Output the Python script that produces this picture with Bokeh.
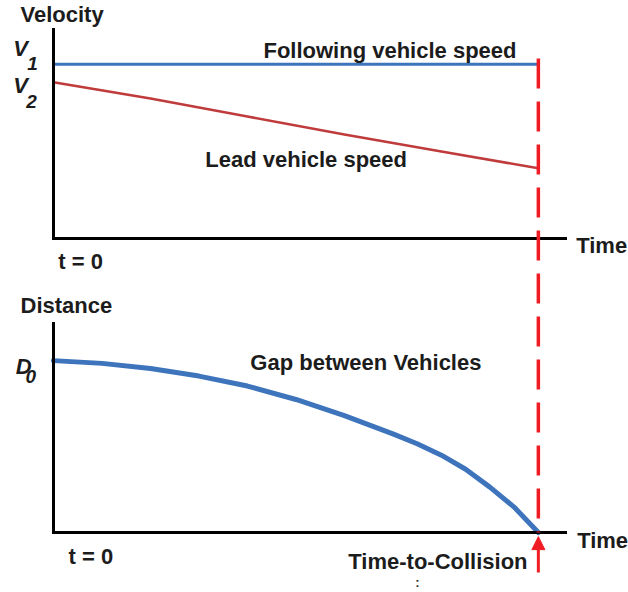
from bokeh.plotting import figure
from bokeh.models import Range1d, Label, Arrow, NormalHead, FixedTicker, LinearAxis
from bokeh.embed import file_html
from bokeh.resources import INLINE

# ---------------- data ----------------
TTC = 10.0                       # time-to-collision (time units)
T_MAX = 10.56                    # end of the time axes

# top panel: velocities
t_follow = [0.0, 10.0]
v_follow = [30.0, 30.0]          # V1, following vehicle speed
t_lead = [0, 2, 4, 6, 8, 10]
v_lead = [26.9, 24.1, 21.0, 17.9, 15.0, 12.1]   # starts at V2
V_TOP = 36.0                     # top of the velocity axis

# bottom panel: gap between vehicles
t_gap = [0, 1, 2, 3, 4, 5, 6, 7, 7.5, 8, 8.5, 9, 9.5, 10]
d_gap = [50.0, 49.2, 47.7, 45.5, 42.6, 38.7, 34.0, 28.7, 25.8, 22.5, 18.4,
         13.2, 7.4, 0.0]
D_TOP = 60.8                     # top of the distance axis

# dashed time-to-collision marker: from just above V1 down to zero gap
V_DASH_TOP = 31.0

# ---------------- layout (pixels) ----------------
W, H = 628, 592
AX_X0, AX_X1 = 53, 565           # time axis span
VEL_Y0, VEL_Y1 = 238, 29         # velocity axis: zero line, top
DIS_Y0, DIS_Y1 = 532, 323        # distance axis: zero line, top

ppt = (AX_X1 - AX_X0) / T_MAX
ppv = (VEL_Y0 - VEL_Y1) / V_TOP
ppd = (DIS_Y0 - DIS_Y1) / D_TOP

BLUE = "#3D74BB"
DARKRED = "#BF3B3C"
RED = "#F01C24"
INK = "#1C1C1C"
FONT = "Liberation Sans"

p = figure(width=W, height=H,
           x_range=Range1d(-AX_X0 / ppt, (W - AX_X0) / ppt),
           y_range=Range1d(-(H - DIS_Y0) / ppd, DIS_Y0 / ppd),
           output_backend="svg", toolbar_location=None,
           min_border=0, min_border_left=0, min_border_right=0,
           min_border_top=0, min_border_bottom=0)
p.extra_y_ranges = {"vel": Range1d(-(H - VEL_Y0) / ppv, VEL_Y0 / ppv)}
p.grid.visible = False
p.outline_line_color = None
p.xaxis.visible = False
p.yaxis.visible = False


def style_axis(ax):
    ax.ticker = FixedTicker(ticks=[])
    ax.axis_line_width = 3
    ax.axis_line_color = "black"
    ax.axis_line_cap = "square"
    ax.major_tick_line_color = None
    ax.minor_tick_line_color = None
    ax.major_label_text_font_size = "0px"
    return ax


# velocity panel axes
p.add_layout(style_axis(LinearAxis(y_range_name="vel", fixed_location=0,
                                   bounds=(0, V_TOP))), "left")
p.add_layout(style_axis(LinearAxis(y_range_name="vel", fixed_location=0,
                                   bounds=(0, T_MAX))), "below")
# distance panel axes
p.add_layout(style_axis(LinearAxis(fixed_location=0, bounds=(0, D_TOP))), "left")
p.add_layout(style_axis(LinearAxis(fixed_location=0, bounds=(0, T_MAX))), "below")

# series
p.line(t_follow, v_follow, y_range_name="vel", line_color=BLUE, line_width=3)
p.line(t_lead, v_lead, y_range_name="vel", line_color=DARKRED, line_width=2.6,
       line_join="round")
p.line(t_gap, d_gap, line_color=BLUE, line_width=5, line_join="round",
       line_cap="round")

# dashed marker, top of velocity panel down to the zero gap
dash_top_d = DIS_Y0 / ppd - (VEL_Y0 / ppv - V_DASH_TOP) * ppv / ppd
p.line([TTC, TTC], [dash_top_d, 0], line_color=RED, line_width=3.5,
       line_dash="30 13", level="overlay")


def txt(x, y, text, size=22, style="bold", color=INK, rng="default"):
    p.add_layout(Label(x=x, y=y, text=text, text_font=FONT, y_range_name=rng,
                       text_font_size=f"{size}px", text_font_style=style,
                       text_color=color, text_baseline="alphabetic",
                       text_align="left"))


# velocity panel texts
txt(-0.68, 38.6, "Velocity", rng="vel")
txt(-0.83, 32.7, "V", style="bold italic", rng="vel")
txt(-0.54, 30.1, "1", size=19, style="bold italic", rng="vel")
txt(-0.83, 26.35, "V", style="bold italic", rng="vel")
txt(-0.56, 23.6, "2", size=19, style="bold italic", rng="vel")
txt(4.33, 32.4, "Following  vehicle speed", rng="vel")
txt(3.13, 13.6, "Lead vehicle speed", rng="vel")
txt(10.78, -1.2, "Time", rng="vel")
txt(0.10, -3.96, "t = 0", rng="vel")

# distance panel texts
txt(-0.68, 65.9, "Distance")
txt(-0.78, 48.2, "D", style="bold italic")
txt(-0.58, 45.3, "0", size=19, style="bold italic")
txt(4.06, 49.4, "Gap between Vehicles")
txt(0.31, -7.0, "t = 0")
txt(10.80, -2.4, "Time")
txt(6.08, -8.4, "Time-to-Collision")
txt(7.46, -14.6, ":", size=13, color="#333333")
p.add_layout(Arrow(end=NormalHead(size=13, fill_color=RED, line_color=RED),
                   x_start=TTC, y_start=-11.6, x_end=TTC, y_end=-1.2,
                   line_color=RED, line_width=3))

open("out.html", "w").write(file_html(p, INLINE))
